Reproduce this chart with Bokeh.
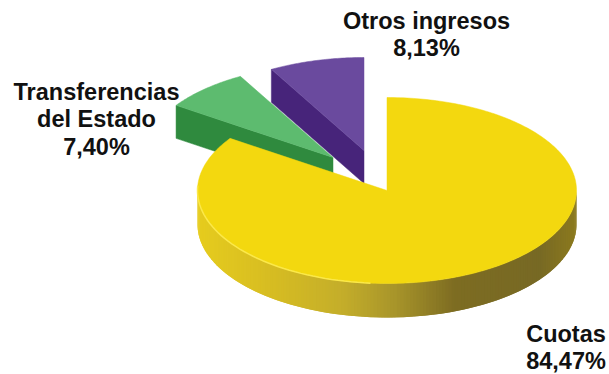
import math
from bokeh.plotting import figure
from bokeh.models import Range1d
from bokeh.core.properties import value
from bokeh.embed import file_html
from bokeh.resources import INLINE

categories = ["Cuotas", "Transferencias del Estado", "Otros ingresos"]
values = [84.47, 7.40, 8.13]
top_colors = ["#F3D80F", "#5DBB6F", "#6A4A9E"]
side_colors = [None, "#2F8A3E", "#47247A"]
label_lines = [["Cuotas"], ["Transferencias", "del Estado"], ["Otros ingresos"]]
label_anchor = [(565.5, 333), (96, 91), (426, 20)]
explode = [(0, 0), (-54, -33), (-23, -40)]

CX, CY, RX, RY, DEPTH = 386.5, 190.0, 189.5, 93.0, 34.0
SIDE_DEPTH = 33.0
LINE_STEP = 27.5
rim_stops = [(0.0, "#E6CC1E"), (0.2, "#D6BC22"), (0.38, "#C4AE2A"), (0.52, "#A8952A"),
             (0.68, "#7D6C22"), (0.9, "#776924"), (1.0, "#8C7A1E")]


def hex_rgb(h):
    return tuple(int(h[i:i + 2], 16) for i in (1, 3, 5))


def rim_color(f):
    for (f0, c0), (f1, c1) in zip(rim_stops, rim_stops[1:]):
        if f <= f1:
            u = (f - f0) / (f1 - f0)
            a, b = hex_rgb(c0), hex_rgb(c1)
            return "#%02X%02X%02X" % tuple(round(a[i] + (b[i] - a[i]) * u) for i in range(3))
    return rim_stops[-1][1]


def pt(deg, ox=0.0, oy=0.0):
    r = math.radians(deg)
    return CX + ox + RX * math.sin(r), CY + oy - RY * math.cos(r)


p = figure(width=609, height=374, toolbar_location=None, output_backend="svg",
           x_range=Range1d(0, 609), y_range=Range1d(374, 0), min_border=0,
           outline_line_color=None, background_fill_color="white")
p.axis.visible = False
p.grid.visible = False

total = sum(values)
spans = []
start = 0.0
for v in values:
    spans.append((start, start + v / total * 360))
    start = spans[-1][1]

# back slices first (purple, then green), yellow last
for i in (2, 1):
    a0, a1 = spans[i]
    ox, oy = explode[i]
    ox0, oy0 = pt(a0, ox, oy)
    ax, ay = CX + ox, CY + oy
    # visible cut face along the slice's first edge
    p.patch([ox0, ax, ax, ox0], [oy0, ay, ay + SIDE_DEPTH, oy0 + SIDE_DEPTH],
            fill_color=side_colors[i], line_color=side_colors[i], line_width=0.5)
    n = 40
    arc = [pt(a0 + (a1 - a0) * k / n, ox, oy) for k in range(n + 1)]
    p.patch([ax] + [q[0] for q in arc], [ay] + [q[1] for q in arc],
            fill_color=top_colors[i], line_color=top_colors[i], line_width=0.5)

# yellow rim, shaded across its width; slices overlap so no seams show
xs, ys, cs = [], [], []
for d in range(90, 270):
    x0, y0 = pt(d)
    x1, y1 = pt(d + 2)
    xm = pt(d + 0.5)[0]
    xs.append([x0, x1, x1, x0])
    ys.append([y0, y1, y1 + DEPTH, y0 + DEPTH])
    cs.append(rim_color((xm - (CX - RX)) / (2 * RX)))
p.patches(xs, ys, fill_color=cs, line_color=None)

# yellow top face
a0, a1 = spans[0]
n = 300
arc = [pt(a0 + (a1 - a0) * k / n) for k in range(n + 1)]
p.patch([CX] + [q[0] for q in arc], [CY] + [q[1] for q in arc],
        fill_color=top_colors[0], line_color=top_colors[0], line_width=0.5)

# light edge along the lower-left of the top face
hl = [pt(d) for d in range(185, 275, 2)]
p.line([q[0] for q in hl], [q[1] for q in hl], line_color="#FBE84A", line_width=1.5)

# labels
tx, ty, tt = [], [], []
for lines, (lx, ly), v in zip(label_lines, label_anchor, values):
    pct = f"{v:.2f}".replace(".", ",") + "%"
    for k, s in enumerate(lines + [pct]):
        tx.append(lx)
        ty.append(ly + k * LINE_STEP)
        tt.append(s)
p.text(tx, ty, text=tt, text_font=value("Liberation Sans"), text_font_style="bold",
       text_font_size="23.5px", text_color="#111111", text_align="center",
       text_baseline="middle")

open("out.html", "w").write(file_html(p, INLINE))
